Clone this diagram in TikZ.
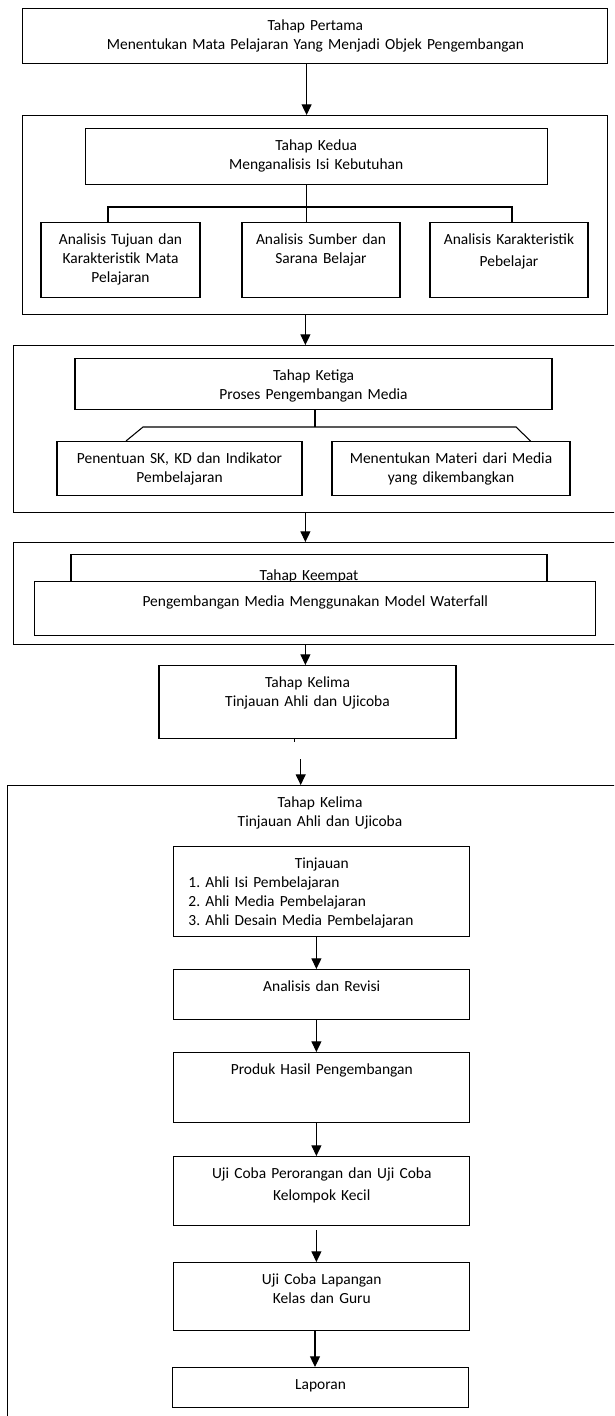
\documentclass[tikz,border=0pt]{standalone}
\usepackage{fontspec}
\setmainfont{Carlito}
\usetikzlibrary{arrows.meta}
\frenchspacing

\tikzset{
    kotak/.style 2 args={draw, fill=white, anchor=north, align=center,
        inner sep=0pt, text width=#1*0.75pt, text height=16.5pt,
        text depth=#2*0.75pt-16.5pt},
    judul/.style={anchor=north, align=center, inner sep=0pt,
        text width=200pt, text height=16.5pt},
    panah/.style={-{Triangle[length=8pt,width=7.5pt]}},
}

\begin{document}
\begin{tikzpicture}[x=0.75pt, y=-0.75pt, line width=0.8pt,
    font=\fontsize{11.6pt}{14.25pt}\selectfont]
    \useasboundingbox (0,0) rectangle (614,1416);
    \clip (0,0) rectangle (614,1416);

    \node[kotak={585}{55}] (satu) at (315.4,8)
        {Tahap Pertama\\Menentukan Mata Pelajaran Yang Menjadi Objek Pengembangan};
    \node[kotak={585}{199}] (luar2) at (315.4,115) {};
    \node[kotak={462}{56}] (dua) at (316.2,128) {Tahap Kedua\\Menganalisis Isi Kebutuhan};
    \node[kotak={159}{75}] (tujuan) at (120.5,222) {Analisis Tujuan dan\\Karakteristik Mata\\Pelajaran};
    \node[kotak={158}{75}] (sumber) at (321,222) {Analisis Sumber dan\\Sarana Belajar};
    \node[kotak={158}{75}] (karakter) at (509,222) {Analisis Karakteristik\\[2pt]Pebelajar};

    \node[kotak={626}{167}] (luar3) at (326.7,345) {};
    \node[kotak={477}{51}] (tiga) at (313.5,358) {Tahap Ketiga\\Proses Pengembangan Media};
    \node[kotak={245}{54}] (sk) at (179.5,441) {Penentuan SK, KD dan Indikator\\Pembelajaran};
    \node[kotak={238}{54}] (materi) at (451,441) {Menentukan Materi dari Media\\yang dikembangkan};

    \node[kotak={626}{102}] (luar4) at (326.7,542) {};
    \node[kotak={476}{40}, text height=19.5pt, text depth=10.5pt] (empat) at (309,554) {Tahap Keempat};
    \node[kotak={561}{54}, text height=18.75pt, text depth=21.75pt] (waterfall) at (315.25,581)
        {Pengembangan Media Menggunakan Model Waterfall};

    \node[kotak={297}{73}] (lima) at (307.5,665) {Tahap Kelima\\Tinjauan Ahli dan Ujicoba};

    \node[kotak={632}{660}] (luar5) at (323.8,785) {};
    \node[judul] (judul5) at (320,785) {Tahap Kelima\\Tinjauan Ahli dan Ujicoba};
    \node[kotak={296}{90}] (tinjauan) at (321.75,846)
        {Tinjauan\\\parbox[t]{200pt}{1. Ahli Isi Pembelajaran\\2. Ahli Media Pembelajaran\\3. Ahli Desain Media Pembelajaran}};
    \node[kotak={296}{50}] (revisi) at (321.75,969) {Analisis dan Revisi};
    \node[kotak={296}{70}] (produk) at (321.75,1052) {Produk Hasil Pengembangan};
    \node[kotak={296}{69}] (perorangan) at (321.75,1156) {Uji Coba Perorangan dan Uji Coba\\[2pt]Kelompok Kecil};
    \node[kotak={296}{68}] (lapangan) at (321.75,1262) {Uji Coba Lapangan\\Kelas dan Guru};
    \node[kotak={296}{40}] (laporan) at (320.5,1367) {Laporan};

    \coordinate (cabang1) at (306.6,207);
    \coordinate (cabang2) at (315,427);
    \coordinate (pangkal) at (300.7,759);

    \draw[panah] (satu.south -| 306.6,0) -- (luar2.north -| 306.6,0);
    \draw (dua.south -| cabang1) -- (sumber.north -| cabang1);
    \draw (tujuan.north -| 108,0) |- (cabang1) -| (karakter.north -| 512,0);
    \draw[panah] (luar2.south -| 305.4,0) -- (luar3.north -| 305.4,0);
    \draw (tiga.south -| cabang2) -- (cabang2);
    \draw (sk.north -| 126,0) -- (143,427) -- (516,427) -- (materi.north -| 530.5,0);
    \draw[panah] (luar3.south -| 305.4,0) -- (luar4.north -| 305.4,0);
    \draw[panah] (luar4.south -| 305.4,0) -- (lima.north -| 305.4,0);
    \draw (lima.south -| 294.4,0) -- ++(0,3);
    \draw[panah] (pangkal) -- (luar5.north -| pangkal);
    \draw[panah] (tinjauan.south -| 316.4,0) -- (revisi.north -| 316.4,0);
    \draw[panah] (revisi.south -| 316.4,0) -- (produk.north -| 316.4,0);
    \draw[panah] (produk.south -| 316.4,0) -- (perorangan.north -| 316.4,0);
    \draw[panah, shorten <=3pt] (perorangan.south -| 316.4,0) -- (lapangan.north -| 316.4,0);
    \draw[panah] (lapangan.south -| 315,0) -- (laporan.north -| 315,0);
\end{tikzpicture}
\end{document}
